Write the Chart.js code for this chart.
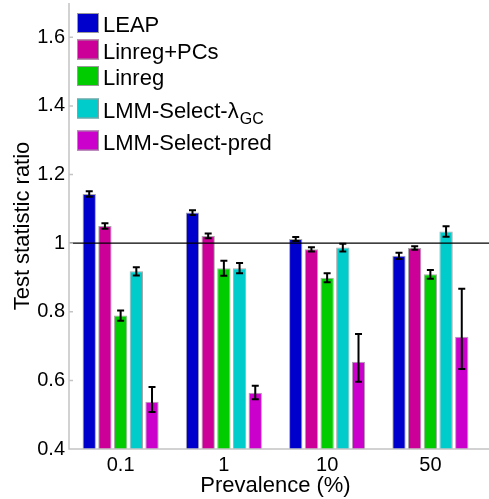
<!DOCTYPE html>
<html>
<head>
<meta charset="utf-8">
<script src="https://cdn.jsdelivr.net/npm/chart.js@4"></script>
<style>
  html, body { margin: 0; padding: 0; background: #fff; }
  canvas { display: block; }
</style>
</head>
<body>
<canvas id="chart" width="489" height="499"></canvas>
<script>
// Data
const categories = ["0.1", "1", "10", "50"];
const yTicks = [0.4, 0.6, 0.8, 1, 1.2, 1.4, 1.6];

const leap = [1.143, 1.089, 1.012, 0.963];
const leapErr = [0.008, 0.007, 0.006, 0.009];

const linregPcs = [1.050, 1.021, 0.982, 0.986];
const linregPcsErr = [0.008, 0.007, 0.006, 0.005];

const linreg = [0.789, 0.927, 0.899, 0.909];
const linregErr = [0.015, 0.022, 0.013, 0.013];

const lmmGc = [0.918, 0.927, 0.987, 1.034];
const lmmGcErr = [0.012, 0.015, 0.011, 0.015];

const lmmPred = [0.538, 0.564, 0.654, 0.727];
const lmmPredErrDown = [0.030, 0.019, 0.058, 0.094];
const lmmPredErrUp = [0.043, 0.020, 0.081, 0.140];

const FONT = "'Liberation Sans', Arial, Helvetica, sans-serif";

function series(label, data, color, down, up) {
    return {
        label: label,
        data: data,
        backgroundColor: color,
        borderColor: "#a8a8a8",
        borderWidth: 1,
        errDown: down,
        errUp: up || down,
        categoryPercentage: 0.76,
        barPercentage: 0.85
    };
}

// error bars, reference line at 1, axis lines and inner tick marks
const extras = {
    id: "extras",
    afterDatasetsDraw(chart) {
        const c = chart.ctx;
        const y = chart.scales.y;
        const a = chart.chartArea;
        c.save();
        c.strokeStyle = "#000";
        c.lineWidth = 2;
        chart.data.datasets.forEach((ds, i) => {
            chart.getDatasetMeta(i).data.forEach((bar, j) => {
                const v = ds.data[j];
                const yLo = y.getPixelForValue(v - ds.errDown[j]);
                const yHi = y.getPixelForValue(v + ds.errUp[j]);
                c.beginPath();
                c.moveTo(bar.x, yLo); c.lineTo(bar.x, yHi);
                c.moveTo(bar.x - 3.5, yLo); c.lineTo(bar.x + 3.5, yLo);
                c.moveTo(bar.x - 3.5, yHi); c.lineTo(bar.x + 3.5, yHi);
                c.stroke();
            });
        });
        // reference line
        const y1 = y.getPixelForValue(1);
        c.lineWidth = 1.2;
        c.beginPath();
        c.moveTo(a.left, y1); c.lineTo(chart.width, y1);
        c.stroke();
        // axes
        c.strokeStyle = "#c4c4c4";
        c.lineWidth = 1.5;
        c.beginPath();
        c.moveTo(a.left, a.top); c.lineTo(a.left, a.bottom);
        c.lineTo(chart.width, a.bottom);
        yTicks.forEach(t => {
            const p = y.getPixelForValue(t);
            c.moveTo(a.left, p); c.lineTo(a.left + 4, p);
        });
        c.stroke();
        c.restore();
    },
    afterDraw(chart) {
        // legend with subscript label
        const c = chart.ctx;
        const rows = [13, 39.5, 66, 98.5, 130.5];
        c.save();
        chart.data.datasets.forEach((ds, i) => {
            const top = rows[i];
            c.fillStyle = ds.backgroundColor;
            c.fillRect(77, top, 22, 20);
            c.strokeStyle = "#9a9a9a";
            c.lineWidth = 1;
            c.strokeRect(77.5, top + 0.5, 21, 19);
            c.fillStyle = "#000";
            c.textBaseline = "alphabetic";
            c.font = "22px " + FONT;
            const parts = ds.label.split("_");
            c.fillText(parts[0], 103, top + 19);
            if (parts[1]) {
                const w = c.measureText(parts[0]).width;
                c.font = "16px " + FONT;
                c.fillText(parts[1], 103 + w + 1, top + 25);
            }
        });
        c.restore();
    }
};

new Chart(document.getElementById("chart"), {
    type: "bar",
    data: {
        labels: categories,
        datasets: [
            series("LEAP", leap, "#0000cc", leapErr),
            series("Linreg+PCs", linregPcs, "#cc0099", linregPcsErr),
            series("Linreg", linreg, "#00cc00", linregErr),
            series("LMM-Select-\u03bb_GC", lmmGc, "#00cccc", lmmGcErr),
            series("LMM-Select-pred", lmmPred, "#cc00cc", lmmPredErrDown, lmmPredErrUp)
        ]
    },
    options: {
        responsive: false,
        animation: false,
        layout: { padding: { top: 3, right: 7, left: 0, bottom: 0 } },
        plugins: {
            legend: { display: false },
            tooltip: { enabled: false }
        },
        scales: {
            x: {
                grid: { display: false, drawTicks: false },
                border: { display: false },
                ticks: { color: "#000", font: { family: FONT, size: 20 }, padding: 4 },
                title: {
                    display: true,
                    text: "Prevalence (%)",
                    color: "#000",
                    font: { family: FONT, size: 22 },
                    padding: { top: 0, bottom: 0 }
                },
                afterFit(scale) {
                    scale.height = 50;
                    scale.paddingLeft = 0;
                    scale.paddingRight = 0;
                }
            },
            y: {
                min: 0.4,
                max: 1.7,
                grid: { display: false, drawTicks: false },
                border: { display: false },
                afterBuildTicks(scale) { scale.ticks = yTicks.map(v => ({ value: v })); },
                ticks: {
                    color: "#000",
                    font: { family: FONT, size: 20 },
                    padding: 4,
                    callback: v => String(v)
                },
                title: {
                    display: true,
                    text: "Test statistic ratio",
                    color: "#000",
                    font: { family: FONT, size: 22 },
                    padding: { top: 10, bottom: 0 }
                },
                afterFit(scale) {
                    scale.width = 69;
                    scale.paddingTop = 0;
                    scale.paddingBottom = 0;
                }
            }
        }
    },
    plugins: [extras]
});
</script>
</body>
</html>
